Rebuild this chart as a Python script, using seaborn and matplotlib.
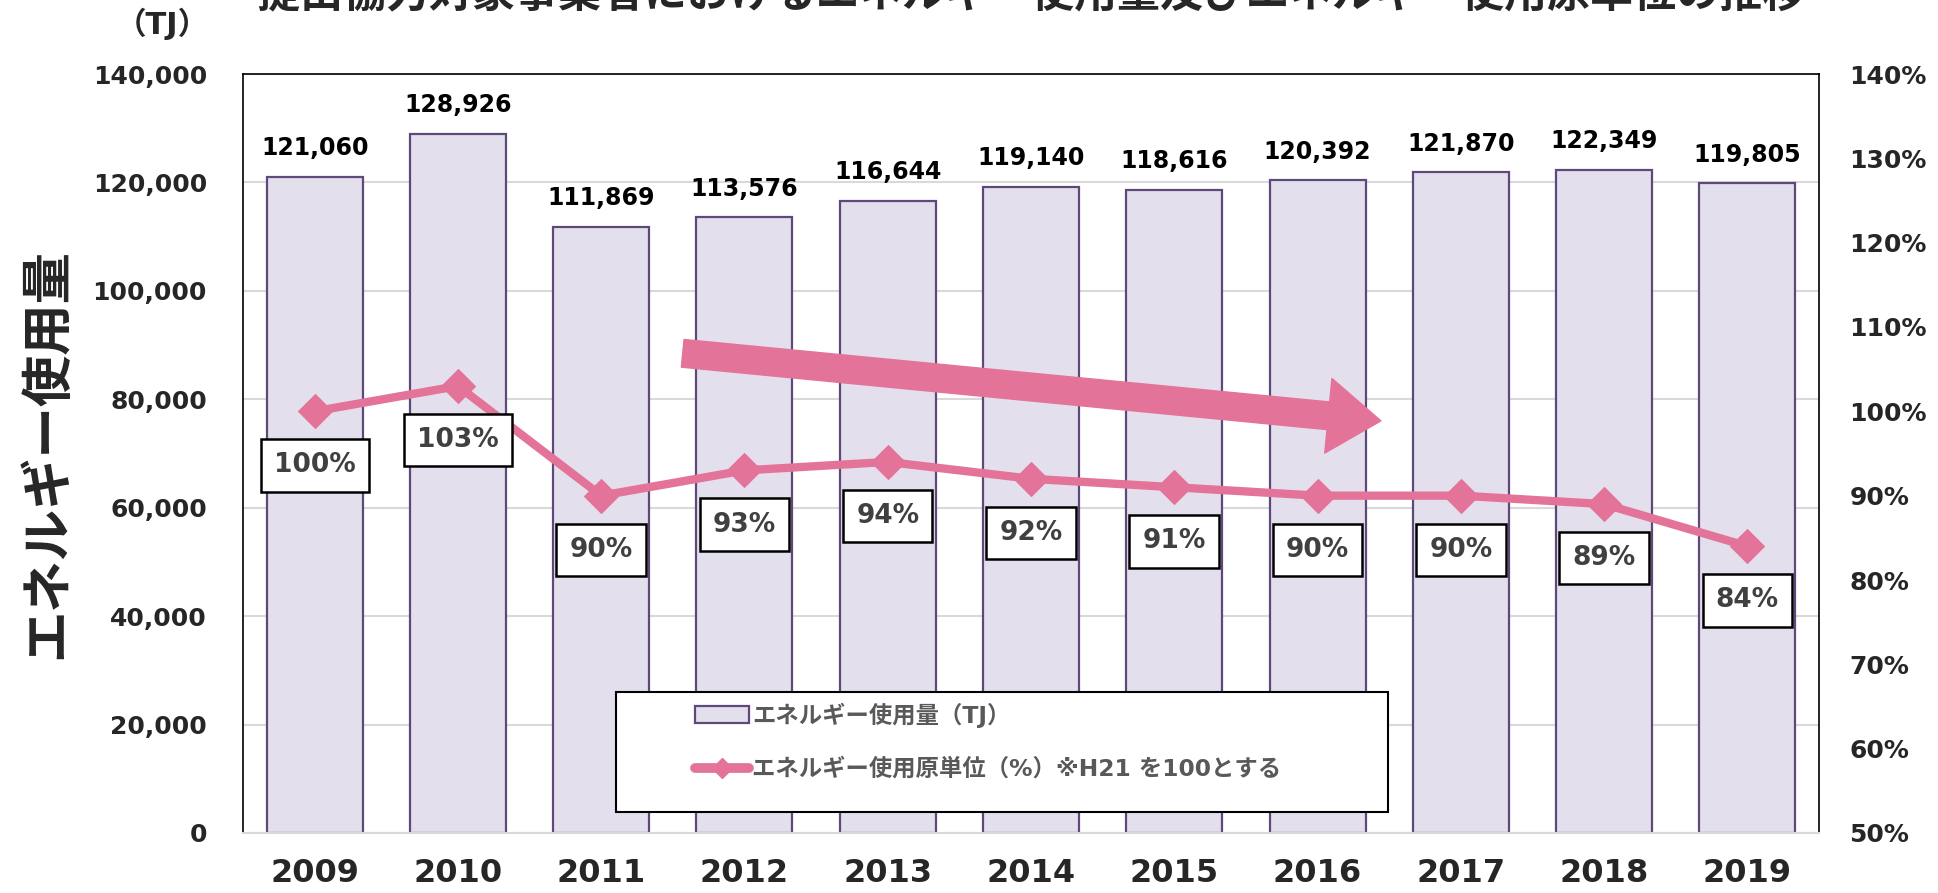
import numpy as np
import pandas as pd
import matplotlib
matplotlib.use("Agg")
import matplotlib.pyplot as plt
from matplotlib.patches import Patch, Rectangle
from matplotlib.lines import Line2D
import seaborn as sns

years = ["2009", "2010", "2011", "2012", "2013", "2014", "2015", "2016", "2017", "2018", "2019"]
energy_tj = [121060, 128926, 111869, 113576, 116644, 119140, 118616, 120392, 121870, 122349, 119805]
intensity_pct = [100, 103, 90, 93, 94, 92, 91, 90, 90, 89, 84]

title = "提出協力対象事業者におけるエネルギー使用量及びエネルギー使用原単位の推移"
bar_label = "エネルギー使用量（TJ）"
line_label = "エネルギー使用原単位（%）※H21 を100とする"

bar_fill = "#E4DFEC"
bar_edge = "#5F497A"
pink = "#E37399"

sns.set_theme(style="white")
plt.rcParams['font.family'] = ['DejaVu Sans', 'Noto Sans CJK JP']
plt.rcParams['font.weight'] = 'bold'

df = pd.DataFrame({"year": years, "energy": energy_tj, "pct": intensity_pct})
df["pos"] = np.arange(len(df))

fig = plt.figure(figsize=(19.38, 8.93), dpi=100)
ax = fig.add_axes([243/1938, 60/893, (1819-243)/1938, (833-74)/893])

sns.barplot(data=df, x="year", y="energy", ax=ax, color=bar_fill, width=0.67,
            edgecolor=bar_edge, linewidth=1.6, saturation=1)
ax.set_ylim(0, 140000)
ax.set_xlim(-0.5, len(years) - 0.5)
ax.set_yticks(np.arange(0, 140001, 20000))
ax.set_yticklabels([f"{v:,}" for v in range(0, 140001, 20000)])
ax.yaxis.grid(True, color="#D9D9D9", linewidth=1.5)
ax.set_axisbelow(True)
ax.tick_params(axis="y", labelsize=18, pad=26, length=0)
ax.tick_params(axis="x", labelsize=23, pad=18, length=0)
for lab in ax.get_xticklabels() + ax.get_yticklabels():
    lab.set_fontweight("bold")
ax.set_xlabel("")
ax.set_ylabel("エネルギー使用量", fontsize=37, fontweight="bold")
ax.yaxis.set_label_coords(-0.108, 0.5)

for s in ["top", "left", "right"]:
    ax.spines[s].set_color("black")
    ax.spines[s].set_linewidth(1.2)
ax.spines["bottom"].set_color("#D9D9D9")
ax.spines["bottom"].set_linewidth(1.5)

for i, v in enumerate(energy_tj):
    ax.annotate(f"{v:,}", (i, v), xytext=(0, 12), textcoords="offset points",
                ha="center", va="bottom", fontsize=17, fontweight="bold", color="black")

ax2 = ax.twinx()
sns.lineplot(data=df, x="pos", y="pct", ax=ax2, color=pink, linewidth=6,
             marker="D", markersize=17, markeredgecolor=pink, legend=False)
ax2.set_ylim(50, 140)
ax2.set_yticks(np.arange(50, 141, 10))
ax2.set_yticklabels([f"{v}%" for v in range(50, 141, 10)])
ax2.tick_params(axis="y", labelsize=18, pad=22, length=0)
for lab in ax2.get_yticklabels():
    lab.set_fontweight("bold")
ax2.set_ylabel("")
ax2.set_xlabel("")
ax2.grid(False)
for s in ax2.spines.values():
    s.set_visible(False)

for i, v in enumerate(intensity_pct):
    ax2.annotate(f"{v}%", (i, v), xytext=(0, -39), textcoords="offset points",
                 ha="center", va="center", fontsize=19, fontweight="bold", color="#404040",
                 bbox=dict(boxstyle="square,pad=0.5", fc="white", ec="black", lw=1.8))

ax2.annotate("", xy=(0.722, 0.543), xytext=(0.279, 0.632), xycoords="axes fraction",
             arrowprops=dict(arrowstyle="simple,head_width=2.7,head_length=1.9,tail_width=1.0",
                             mutation_scale=20, color=pink, shrinkA=0, shrinkB=0))

# legend box drawn separately so the entries can sit inset like the original
box = Rectangle((0.2367, 0.0277), 0.490, 0.158, transform=ax2.transAxes,
                facecolor="white", edgecolor="black", linewidth=1.5, zorder=15)
ax2.add_patch(box)
handles = [Patch(facecolor=bar_fill, edgecolor=bar_edge, linewidth=1.6),
           Line2D([0], [0], color=pink, linewidth=7, marker="D", markersize=10)]
leg = ax2.legend(handles, [bar_label, line_label], loc="upper left",
                 bbox_to_anchor=(0.287, 0.172),
                 prop={"size": 16.8, "weight": "bold"}, labelcolor="#595959",
                 frameon=False, borderpad=0, labelspacing=1.3, handlelength=2.3,
                 handletextpad=0.15, borderaxespad=0)
leg.set_zorder(20)

fig.text(0.532, 0.982, title, ha="center", va="bottom", fontsize=31, fontweight="bold")
fig.text(0.0836, 0.973, "（TJ）", ha="center", va="center", fontsize=22, fontweight="bold")

fig.savefig("out.png", dpi=100)
